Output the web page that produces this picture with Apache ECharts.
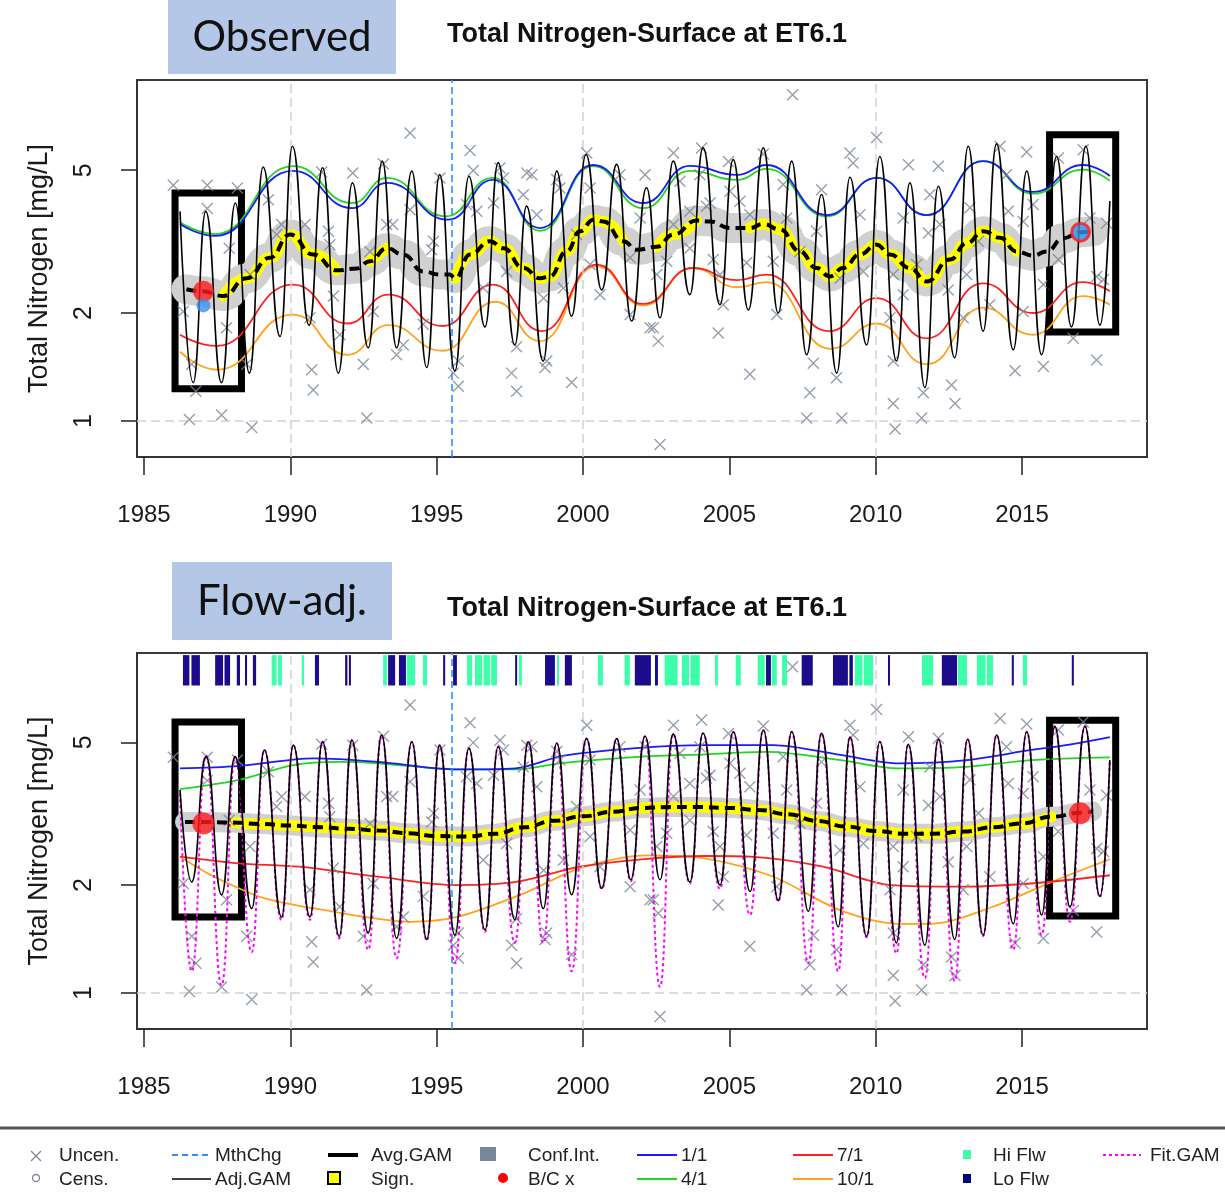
<!DOCTYPE html>
<html>
<head>
<meta charset="utf-8">
<title>Total Nitrogen-Surface at ET6.1</title>
<script src="https://cdn.jsdelivr.net/npm/echarts@6/dist/echarts.min.js"></script>
<style>
  html, body { margin: 0; padding: 0; background: #ffffff; }
  #chart { width: 1225px; height: 1202px; }
</style>
</head>
<body>
<div id="chart"></div>
<script>
// ---------------- axis ticks ----------------
const xTickYears = [1985, 1990, 1995, 2000, 2005, 2010, 2015];
const yTickValues = [1, 2, 5];
const decadeGridYears = [1990, 2000, 2010];
const methodChangeYear = 1995.52;

// ---------------- observations (year, mg/L) ----------------
const obsPoints = [
  [1986.00,4.54],[1987.16,4.54],[1988.19,4.46],[1987.16,3.91],[1987.91,3.03],[1989.25,4.14],[1989.70,3.53],
  [1990.50,3.53],[1991.07,4.94],[1992.13,4.91],[1993.18,5.20],[1991.30,3.38],[1991.35,3.10],[1993.29,3.53],
  [1992.72,2.97],[1991.47,2.23],[1990.67,1.94],[1992.83,2.02],[1991.69,1.74],[1993.63,1.53],[1992.49,1.44],
  [1990.73,1.39],[1990.78,1.22],[1988.51,1.44],[1987.82,1.82],[1986.34,2.02],[1986.63,1.44],[1986.77,1.21],
  [1986.55,1.01],[1987.65,1.04],[1988.68,0.96],[1992.61,1.02],[1989.53,3.31],[1988.62,2.56],
  [1994.09,6.35],[1996.14,5.67],[1995.11,4.76],[1996.25,4.99],[1997.16,5.07],[1997.28,4.76],[1998.08,4.91],
  [1998.25,4.86],[1999.10,4.71],[1999.21,4.46],[2000.13,5.58],[2000.24,4.46],[2001.26,4.86],[2002.12,4.86],
  [1997.96,4.27],[1998.42,3.76],[1996.37,3.84],[1996.94,4.05],[1996.02,4.01],[1994.89,3.17],[1994.83,3.00],
  [1994.09,3.88],[1993.50,3.53],[1997.39,2.61],[1996.59,2.35],[1998.65,2.20],[1999.33,2.35],[2000.58,2.25],
  [2001.61,1.98],[2002.29,1.82],[1994.54,1.86],[1993.86,1.63],[1995.74,1.47],[1995.74,1.25],[1995.57,1.36],
  [1997.73,1.61],[1997.56,1.36],[1997.73,1.21],[1998.76,1.47],[1999.61,1.28],[1998.70,1.41],[2000.24,2.73],
  [1999.78,3.31],[2001.61,2.85],[2001.95,3.68],
  [2007.16,8.12],[2010.03,6.17],[2003.09,5.58],[2004.05,5.77],[2004.97,5.29],[2006.16,5.55],[2009.12,5.58],
  [2009.23,5.24],[2003.31,4.66],[2003.99,4.86],[2005.02,4.37],[2005.36,4.10],[2004.22,3.97],[2008.15,4.41],
  [2009.46,3.76],[2003.09,3.53],[2003.65,3.84],[2004.34,4.05],[2005.70,3.76],[2006.84,4.56],[2007.98,3.38],
  [2007.41,2.97],[2009.58,2.61],[2002.86,2.79],[2003.65,3.03],[2004.45,2.82],[2005.59,2.76],[2006.50,2.79],
  [2002.52,2.56],[2004.68,2.56],[2008.78,2.50],[2004.79,2.11],[2004.62,1.76],[2002.40,1.82],[2002.57,1.67],
  [2006.62,1.98],[2007.87,1.45],[2007.75,1.20],[2008.66,1.32],[2005.70,1.35],[2007.64,1.02],[2008.84,1.02],
  [2002.63,0.86],[2010.60,1.12],[2010.66,0.95],[2010.49,1.94],[2006.96,3.68],
  [2011.12,5.18],[2012.14,5.13],[2014.25,5.83],[2015.16,5.62],[2016.24,5.41],[2017.09,5.70],[2014.47,4.86],
  [2011.85,4.27],[2010.94,3.68],[2012.20,3.53],[2013.22,3.93],[2014.53,3.84],[2015.38,4.01],[2011.80,3.34],
  [2013.51,3.17],[2015.04,3.60],[2016.24,2.82],[2017.32,3.68],[2017.89,3.56],[2011.40,2.73],[2010.60,2.56],
  [2013.11,2.56],[2015.73,2.40],[2017.55,2.53],[2017.78,2.48],[2010.94,2.25],[2012.48,2.32],[2013.90,2.11],
  [2015.04,2.02],[2012.99,1.94],[2016.75,1.70],[2017.55,1.48],[2015.73,1.42],[2014.76,1.38],[2010.60,1.47],
  [2011.63,1.20],[2012.59,1.26],[2012.71,1.12],[2011.57,1.02]
];

// ---------------- observed panel: GAM curves ----------------
const obsAdjGam = [
  [1986.23,3.84],[1986.68,1.28],[1987.11,3.84],[1987.65,1.28],[1988.12,4.05],[1988.60,1.36],
  [1989.07,5.10],[1989.65,1.72],[1990.07,5.83],[1990.64,1.85],[1991.10,5.08],[1991.64,1.36],
  [1992.12,4.61],[1992.66,1.60],[1993.14,5.30],[1993.63,1.60],[1994.15,4.97],[1994.66,1.41],
  [1995.10,4.86],[1995.62,1.38],[1996.10,4.81],[1996.65,1.83],[1997.10,5.25],[1997.67,1.63],
  [1998.07,3.97],[1998.64,1.47],[1999.10,4.97],[1999.61,1.96],[2000.10,5.53],[2000.64,2.32],
  [2001.15,5.19],[2001.66,1.90],[2002.17,4.47],[2002.63,1.94],[2003.08,5.30],[2003.65,2.25],
  [2004.10,5.77],[2004.68,2.11],[2005.13,5.35],[2005.65,2.04],[2006.16,5.77],[2006.67,2.00],
  [2007.13,5.30],[2007.64,1.53],[2008.15,4.28],[2008.67,1.36],[2009.12,4.78],[2009.69,1.63],
  [2010.14,5.46],[2010.71,1.47],[2011.17,4.61],[2011.68,1.24],[2012.14,4.51],[2012.70,1.50],
  [2013.16,5.83],[2013.67,1.78],[2014.13,5.92],[2014.70,1.58],[2015.16,4.97],[2015.67,1.53],
  [2016.18,5.46],[2016.69,1.83],[2017.18,5.83],[2017.66,1.85],[2018.00,4.10]
];
const obsAvgGam = [
  [1986.45,2.33],[1987.00,2.30],[1987.71,2.23],[1988.51,2.50],[1989.30,2.85],[1989.99,3.31],[1990.78,2.91],
  [1991.58,2.63],[1992.27,2.66],[1992.72,2.79],[1993.29,3.03],[1993.86,2.91],[1994.54,2.61],[1995.11,2.56],
  [1995.45,2.56],[1995.63,2.50],[1996.14,2.91],[1996.82,3.17],[1997.28,3.03],[1997.96,2.67],[1998.53,2.50],
  [1998.87,2.53],[1999.44,2.97],[1999.90,3.38],[2000.35,3.64],[2000.69,3.60],[2001.38,3.17],[2001.83,3.00],
  [2002.52,3.06],[2003.09,3.31],[2003.88,3.62],[2004.34,3.60],[2005.02,3.45],[2005.70,3.45],[2006.16,3.54],
  [2006.73,3.42],[2007.41,2.97],[2007.98,2.67],[2008.44,2.53],[2008.89,2.67],[2009.46,2.91],[2010.03,3.10],
  [2010.49,2.91],[2011.17,2.67],[2011.74,2.45],[2012.54,2.82],[2013.11,3.13],[2013.68,3.38],[2014.25,3.24],
  [2014.81,2.97],[2015.38,2.89],[2015.84,2.97],[2016.41,3.23],[2017.00,3.36],[2017.43,3.38]
];
const obsSigSpans = [[1987.6,1991.7],[1992.5,1993.5],[1994.3,1995.1],[1995.6,2001.5],[2002.4,2004.3],[2005.5,2014.9],[2015.9,2016.4]];
const obsJan = [
  [1986.23,3.54],[1987.43,3.28],[1990.09,4.98],[1992.11,3.92],[1993.30,4.61],[1995.40,3.64],[1996.92,4.70],
  [1998.53,3.45],[2000.34,5.17],[2002.05,4.05],[2003.65,5.14],[2005.26,4.85],[2006.28,5.17],[2008.33,3.75],
  [2010.04,4.76],[2011.75,3.75],[2013.66,5.30],[2015.37,4.35],[2017.08,5.17],[2018.00,4.82]
];
const obsApr = [
  [1986.23,3.58],[1987.43,3.32],[1990.09,5.13],[1992.11,4.05],[1993.30,4.76],[1995.30,3.72],[1996.92,4.76],
  [1998.53,3.39],[2000.34,5.13],[2002.05,3.92],[2003.65,4.98],[2005.26,4.70],[2006.28,5.04],[2008.33,3.72],
  [2010.04,4.76],[2011.75,3.75],[2013.66,5.30],[2015.37,4.30],[2017.08,5.02],[2018.00,4.67]
];
const obsJul = [
  [1986.23,1.74],[1987.48,1.62],[1990.09,2.40],[1991.95,1.87],[1993.35,2.25],[1995.20,1.84],[1996.92,2.40],
  [1998.60,1.78],[2000.45,2.73],[2002.05,2.12],[2003.75,2.67],[2005.26,2.47],[2006.28,2.56],[2008.40,1.78],
  [2010.04,2.20],[2011.75,1.70],[2013.66,2.42],[2015.37,2.00],[2017.08,2.44],[2018.00,2.30]
];
const obsOct = [
  [1986.23,1.56],[1987.50,1.39],[1990.09,1.98],[1991.95,1.53],[1993.35,1.85],[1995.20,1.57],[1997.00,2.15],
  [1998.53,1.67],[2000.45,2.70],[2002.05,2.10],[2003.75,2.67],[2005.26,2.36],[2006.28,2.44],[2008.45,1.59],
  [2010.04,1.87],[2011.75,1.44],[2013.66,2.07],[2015.37,1.74],[2017.08,2.23],[2018.00,2.11]
];
const obsBaseline = [1987.03, 2.30];
const obsBaselineCheck = [1987.03, 2.10];
const obsCurrent = [2017.00, 3.36];

// ---------------- flow-adjusted panel: GAM curves ----------------
const adjAdjGam = [
  [1986.23,3.68],[1986.63,2.04],[1987.12,4.56],[1987.65,1.88],[1988.11,4.56],[1988.68,1.72],
  [1989.11,4.76],[1989.70,1.63],[1990.10,4.91],[1990.67,1.63],[1991.10,5.02],[1991.67,1.44],
  [1992.10,5.07],[1992.66,1.47],[1993.12,5.24],[1993.63,1.42],[1994.15,5.02],[1994.66,1.41],
  [1995.10,4.91],[1995.62,1.45],[1996.10,4.81],[1996.65,1.50],[1997.10,4.86],[1997.67,1.60],
  [1998.13,5.02],[1998.64,1.72],[1999.10,4.97],[1999.61,1.88],[2000.12,5.12],[2000.64,1.96],
  [2001.15,5.12],[2001.63,2.07],[2002.12,5.20],[2002.63,2.07],[2003.08,5.27],[2003.65,2.04],
  [2004.10,5.30],[2004.68,2.00],[2005.13,5.35],[2005.71,1.92],[2006.16,5.41],[2006.67,1.81],
  [2007.13,5.35],[2007.70,1.69],[2008.15,5.30],[2008.72,1.53],[2009.12,5.17],[2009.69,1.44],
  [2010.14,5.02],[2010.71,1.38],[2011.11,4.94],[2011.68,1.36],[2012.14,5.10],[2012.70,1.41],
  [2013.14,5.10],[2013.67,1.45],[2014.13,5.24],[2014.70,1.56],[2015.16,5.35],[2015.67,1.65],
  [2016.12,5.54],[2016.64,1.74],[2017.15,5.54],[2017.66,1.86],[2018.00,4.46]
];
const adjFitGam = [
  [1986.23,3.60],[1986.63,1.15],[1987.12,4.60],[1987.65,1.05],[1988.11,4.50],[1988.68,1.30],
  [1989.11,4.76],[1989.70,1.60],[1990.10,4.91],[1990.67,1.60],[1991.10,5.02],[1991.67,1.42],
  [1992.10,5.07],[1992.66,1.32],[1993.12,5.24],[1993.63,1.25],[1994.15,5.02],[1994.66,1.40],
  [1995.10,4.91],[1995.62,1.21],[1996.10,4.81],[1996.65,1.48],[1997.10,4.86],[1997.67,1.38],
  [1998.13,5.02],[1998.64,1.38],[1999.10,4.97],[1999.61,1.15],[2000.12,5.12],[2000.64,1.95],
  [2001.15,5.12],[2001.63,2.05],[2002.12,5.20],[2002.63,1.04],[2003.08,5.27],[2003.65,2.02],
  [2004.10,5.30],[2004.68,1.95],[2005.13,5.35],[2005.71,1.65],[2006.16,5.41],[2006.67,1.80],
  [2007.13,5.35],[2007.70,1.21],[2008.15,5.30],[2008.72,1.15],[2009.12,5.17],[2009.69,1.43],
  [2010.14,5.02],[2010.71,1.29],[2011.11,4.94],[2011.68,1.10],[2012.14,5.10],[2012.70,1.08],
  [2013.14,5.10],[2013.67,1.44],[2014.13,5.24],[2014.70,1.32],[2015.16,5.35],[2015.67,1.45],
  [2016.12,5.54],[2016.64,1.58],[2017.15,5.54],[2017.66,1.85],[2018.00,4.46]
];
const adjAvgGam = [
  [1986.40,3.00],[1987.00,3.00],[1988.00,2.99],[1989.00,2.96],[1990.00,2.93],[1991.00,2.90],[1992.00,2.87],
  [1993.00,2.84],[1994.00,2.79],[1995.00,2.74],[1996.00,2.73],[1997.00,2.78],[1998.00,2.90],[1999.00,3.02],
  [2000.00,3.11],[2001.00,3.20],[2002.00,3.28],[2003.00,3.30],[2004.00,3.30],[2005.00,3.28],[2006.00,3.24],
  [2007.00,3.15],[2008.00,3.02],[2009.00,2.91],[2010.00,2.83],[2011.00,2.78],[2012.00,2.78],[2013.00,2.82],
  [2014.00,2.90],[2015.00,2.97],[2016.00,3.10],[2017.00,3.18],[2017.40,3.21]
];
const adjSigSpans = [[1987.4,2016.2]];
const adjJan = [
  [1986.23,4.23],[1988.20,4.29],[1990.80,4.51],[1993.00,4.41],[1995.70,4.20],[1997.70,4.23],[1999.30,4.58],
  [2001.70,4.81],[2004.20,4.91],[2006.50,4.91],[2008.80,4.61],[2010.80,4.37],[2013.10,4.46],[2015.30,4.76],
  [2016.50,4.91],[2018.00,5.17]
];
const adjApr = [
  [1986.23,3.70],[1988.20,3.92],[1990.10,4.32],[1991.70,4.41],[1993.00,4.37],[1995.70,4.20],[1997.70,4.20],
  [1999.20,4.37],[2002.00,4.56],[2004.20,4.63],[2006.30,4.70],[2008.80,4.46],[2010.80,4.23],[2013.10,4.27],
  [2015.30,4.46],[2018.00,4.54]
];
const adjJul = [
  [1986.23,2.40],[1988.20,2.30],[1990.30,2.25],[1993.00,2.11],[1995.70,2.00],[1997.70,2.04],[1999.90,2.25],
  [2002.00,2.36],[2004.20,2.41],[2005.70,2.40],[2008.20,2.25],[2010.50,2.00],[2013.10,1.98],[2015.30,2.02],
  [2018.00,2.13]
];
const adjOct = [
  [1986.23,2.40],[1987.40,2.11],[1989.10,1.84],[1991.40,1.69],[1993.00,1.61],[1994.10,1.58],[1995.70,1.63],
  [1998.00,1.90],[1999.90,2.23],[2002.20,2.42],[2004.20,2.37],[2006.50,2.11],[2008.80,1.70],[2010.80,1.56],
  [2011.90,1.56],[2014.00,1.74],[2016.20,2.07],[2018.00,2.36]
];
const adjBaseline = [1987.03, 2.97];
const adjCurrent = [2016.98, 3.17];

// flow classes (start year, end year)
const hiFlowSpans = [
  [1989.36,1989.53],[1989.58,1989.71],[1990.39,1990.47],[1993.17,1993.30],[1993.98,1994.26],[1994.53,1994.67],
  [1996.04,1996.21],[1996.31,1996.55],[1996.60,1996.82],[1996.86,1997.06],[1997.81,1997.91],[1999.11,1999.18],
  [2000.51,2000.68],[2001.42,2001.60],[2002.79,2003.23],[2003.38,2003.62],[2003.67,2003.99],[2004.51,2004.61],
  [2005.22,2005.39],[2005.97,2006.21],[2006.45,2006.62],[2006.80,2006.97],[2009.29,2009.55],[2009.60,2009.91],
  [2011.58,2011.96],[2012.81,2013.12],[2013.46,2013.75],[2013.80,2014.01],[2015.03,2015.17]
];
const loFlowSpans = [
  [1986.33,1986.55],[1986.62,1986.91],[1987.43,1987.70],[1987.75,1987.94],[1988.17,1988.28],[1988.45,1988.52],
  [1988.72,1988.83],[1990.84,1990.98],[1991.87,1991.95],[1992.00,1992.07],[1993.34,1993.58],[1993.71,1993.95],
  [1995.22,1995.29],[1995.56,1995.69],[1997.68,1997.74],[1998.70,1999.04],[1999.38,1999.62],[2001.77,2002.32],
  [2002.46,2002.56],[2006.25,2006.42],[2007.47,2007.85],[2008.54,2009.05],[2009.10,2009.22],[2010.42,2010.49],
  [2012.26,2012.78],[2014.65,2014.72],[2016.70,2016.77]
];

// observation-window boxes (start year, end year, low, high)
const obsWindowBoxes = [[1986.06, 1988.33, 1.23, 4.32], [2015.94, 2018.20, 1.77, 6.28]];
const adjWindowBoxes = [[1986.06, 1988.33, 1.63, 5.70], [2015.94, 2018.20, 1.64, 5.76]];

// ---------------- styling constants ----------------
const FONT = "'Liberation Sans', Arial, sans-serif";
const COL = {
  obs: '#7b8797', jan: '#1a1aff', apr: '#1ed81e', jul: '#ff2222', oct: '#ffa31a',
  hi: '#3dffaa', lo: '#1c0c8c', fit: '#ff00ff', mth: '#2e90ff', ci: '#d0d0d0', sig: '#ffff00'
};
const FLOW_BAND_TOP = 8.75, FLOW_BAND_BOTTOM = 7.2;

function sigOnly(points, spans) {
  return points.map(p => spans.some(s => p[0] >= s[0] && p[0] <= s[1]) ? p : [p[0], null]);
}

function xAxisFor(gi) {
  return {
    type: 'value', gridIndex: gi, min: 1984.76, max: 2019.27,
    axisLine: { show: true, onZero: false, lineStyle: { color: '#333', width: 2 } },
    axisTick: { show: true, length: 18, customValues: xTickYears, lineStyle: { color: '#222', width: 1.5 } },
    axisLabel: { customValues: xTickYears, fontSize: 24, color: '#1a1a1a', fontFamily: FONT, margin: 46,
      formatter: v => String(Math.round(v)) },
    splitLine: { show: false }
  };
}
function yAxisFor(gi, max) {
  return {
    type: 'log', logBase: 10, gridIndex: gi, min: 0.794, max: max,
    name: 'Total Nitrogen [mg/L]', nameLocation: 'middle', nameGap: 84, nameRotate: 90,
    nameTextStyle: { fontSize: 27, color: '#1a1a1a', fontFamily: FONT },
    axisLine: { show: true, lineStyle: { color: '#333', width: 2 } },
    axisTick: { show: true, length: 16, customValues: yTickValues, lineStyle: { color: '#222', width: 1.5 } },
    axisLabel: { customValues: yTickValues, rotate: 90, fontSize: 25, color: '#1a1a1a', fontFamily: FONT, margin: 40,
      formatter: v => String(v) },
    splitLine: { show: false }, minorTick: { show: false }
  };
}

const xMarker = 'path://M0 0L10 10M10 0L0 10';

function panelSeries(gi, d) {
  const ax = { xAxisIndex: gi, yAxisIndex: gi };
  const line = (data, color, width, z, extra) => Object.assign({
    type: 'line', data: data, showSymbol: false, symbol: 'none', smooth: 0.5, smoothMonotone: 'x',
    lineStyle: { color: color, width: width }, z: z, silent: true
  }, ax, extra || {});
  const gentle = d.flat ? { smooth: 0.3, smoothMonotone: null } : null;
  const list = [
    // reference grid
    Object.assign({
      type: 'line', data: [], z: 1, silent: true,
      markLine: {
        silent: true, symbol: 'none', label: { show: false },
        lineStyle: { color: '#d2d2d2', type: [9, 5], width: 1.5 },
        data: decadeGridYears.map(v => ({ xAxis: v })).concat([{ yAxis: 1 }])
      }
    }, ax),
    // confidence band around the averaged GAM
    line(d.avg, COL.ci, d.ciWidth, 2, { lineStyle: { color: COL.ci, width: d.ciWidth, cap: 'round', join: 'round' } }),
    // significance highlight
    line(sigOnly(d.avg, d.sig), COL.sig, 11, 3, { connectNulls: false, lineStyle: { color: COL.sig, width: 11, cap: 'round' } }),
    line(d.oct, COL.oct, 1.8, 4, gentle),
    line(d.jul, COL.jul, 1.8, 4, gentle),
    line(d.apr, COL.apr, 1.8, 4, gentle),
    line(d.jan, COL.jan, 1.8, 4, gentle),
    Object.assign({
      type: 'scatter', data: obsPoints, symbol: xMarker, symbolSize: 11, z: 5, silent: true,
      itemStyle: { color: 'rgba(0,0,0,0)', borderColor: COL.obs, borderWidth: 1.4 }
    }, ax)
  ];
  if (d.fit) {
    list.push(line(d.fit, COL.fit, 2, 6, { lineStyle: { color: COL.fit, width: 2, type: [3, 3] } }));
  }
  list.push(
    line(d.adj, '#000', 1.6, 7),
    line(d.avg, '#000', 4, 8, { lineStyle: { color: '#000', width: 4, type: [10, 6] } }),
    // method change marker
    Object.assign({
      type: 'line', data: [], z: 9, silent: true,
      markLine: {
        silent: true, symbol: 'none', label: { show: false },
        lineStyle: { color: COL.mth, type: [7, 4], width: 1.6 },
        data: [{ xAxis: methodChangeYear }]
      }
    }, ax)
  );
  d.dots.forEach(dot => list.push(Object.assign({
    type: 'scatter', data: [dot.p], symbol: 'circle', symbolSize: dot.size, z: 10, silent: true,
    itemStyle: { color: dot.fill, borderColor: dot.stroke || dot.fill, borderWidth: dot.stroke ? 3 : 0 }
  }, ax)));
  // highlighted comparison windows
  list.push(Object.assign({
    type: 'line', data: [], z: 11, silent: true,
    markArea: {
      silent: true,
      itemStyle: { color: 'rgba(0,0,0,0)', borderColor: '#000', borderWidth: 7 },
      data: d.boxes.map(b => [{ xAxis: b[0], yAxis: b[2] }, { xAxis: b[1], yAxis: b[3] }])
    }
  }, ax));
  return list;
}

function flowSeries(spans, color) {
  return {
    type: 'custom', xAxisIndex: 1, yAxisIndex: 1, data: spans, encode: { x: [0, 1] }, z: 4, silent: true,
    renderItem: function (params, api) {
      const a = api.coord([api.value(0), FLOW_BAND_TOP]);
      const b = api.coord([api.value(1), FLOW_BAND_BOTTOM]);
      return {
        type: 'rect',
        shape: { x: a[0], y: a[1], width: Math.max(b[0] - a[0], 2), height: b[1] - a[1] },
        style: { fill: color }
      };
    }
  };
}

const series = []
  .concat(panelSeries(0, {
    adj: obsAdjGam, avg: obsAvgGam, sig: obsSigSpans, ciWidth: 30,
    jan: obsJan, apr: obsApr, jul: obsJul, oct: obsOct, boxes: obsWindowBoxes,
    dots: [
      { p: obsBaseline, size: 21, fill: '#ff1a1a' },
      { p: obsBaselineCheck, size: 14, fill: '#3a8ee6' },
      { p: obsCurrent, size: 18, fill: '#3a8ee6', stroke: '#ff1a1a' }
    ]
  }))
  .concat(panelSeries(1, {
    adj: adjAdjGam, fit: adjFitGam, avg: adjAvgGam, sig: adjSigSpans, ciWidth: 20, flat: true,
    jan: adjJan, apr: adjApr, jul: adjJul, oct: adjOct, boxes: adjWindowBoxes,
    dots: [
      { p: adjBaseline, size: 22, fill: '#ff1a1a' },
      { p: adjCurrent, size: 22, fill: '#ff1a1a' }
    ]
  }))
  .concat([flowSeries(hiFlowSpans, COL.hi), flowSeries(loFlowSpans, COL.lo)]);

// ---------------- legend and panel labels ----------------
const LG = { fontSize: 19, fill: '#222', fontFamily: FONT };
function ltext(x, y, t) {
  return { type: 'text', x: x, y: y, z: 100, style: Object.assign({ text: t, verticalAlign: 'middle', align: 'left' }, LG) };
}
function lline(x1, x2, y, color, width, dash) {
  return { type: 'line', z: 100, shape: { x1: x1, y1: y, x2: x2, y2: y },
    style: { stroke: color, lineWidth: width, lineDash: dash || null } };
}
const r1 = 1156, r2 = 1180;
const legendGraphics = [
  { type: 'line', z: 100, shape: { x1: 0, y1: 1128, x2: 1225, y2: 1128 }, style: { stroke: '#555', lineWidth: 3 } },
  { type: 'line', z: 100, shape: { x1: 31, y1: r1 - 5, x2: 41, y2: r1 + 5 }, style: { stroke: COL.obs, lineWidth: 1.3 } },
  { type: 'line', z: 100, shape: { x1: 41, y1: r1 - 5, x2: 31, y2: r1 + 5 }, style: { stroke: COL.obs, lineWidth: 1.3 } },
  { type: 'circle', z: 100, shape: { cx: 36, cy: r2 - 2, r: 3.5 }, style: { fill: 'none', stroke: COL.obs, lineWidth: 1.3 } },
  ltext(59, r1, 'Uncen.'), ltext(59, r2, 'Cens.'),
  lline(172, 211, r1 - 1, COL.mth, 2, [6, 4]), ltext(215, r1, 'MthChg'),
  lline(172, 211, r2 - 1, '#000', 1.5), ltext(215, r2, 'Adj.GAM'),
  lline(328, 358, r1 - 1, '#000', 4), ltext(371, r1, 'Avg.GAM'),
  { type: 'rect', z: 100, shape: { x: 328, y: r2 - 8, width: 12, height: 12 }, style: { fill: COL.sig, stroke: '#000', lineWidth: 2 } },
  ltext(371, r2, 'Sign.'),
  { type: 'rect', z: 100, shape: { x: 480, y: r1 - 9, width: 16, height: 14 }, style: { fill: '#778899' } },
  ltext(528, r1, 'Conf.Int.'),
  { type: 'circle', z: 100, shape: { cx: 503, cy: r2 - 2, r: 5 }, style: { fill: '#ff0000' } },
  ltext(528, r2, 'B/C x'),
  lline(637, 677, r1 - 1, COL.jan, 2), ltext(681, r1, '1/1'),
  lline(637, 677, r2 - 1, COL.apr, 2), ltext(681, r2, '4/1'),
  lline(793, 833, r1 - 1, COL.jul, 2), ltext(837, r1, '7/1'),
  lline(793, 833, r2 - 1, COL.oct, 2), ltext(837, r2, '10/1'),
  { type: 'rect', z: 100, shape: { x: 963, y: r1 - 6, width: 8, height: 9 }, style: { fill: COL.hi } },
  ltext(993, r1, 'Hi Flw'),
  { type: 'rect', z: 100, shape: { x: 963, y: r2 - 6, width: 8, height: 9 }, style: { fill: '#000080' } },
  ltext(993, r2, 'Lo Flw'),
  lline(1103, 1141, r1 - 1, COL.fit, 2, [3, 3]), ltext(1150, r1, 'Fit.GAM')
];
function panelTag(x, y, w, h, label) {
  return [
    { type: 'rect', z: 100, shape: { x: x, y: y, width: w, height: h }, style: { fill: '#b4c7e7' } },
    { type: 'text', z: 101, x: x + w / 2, y: y + h / 2,
      style: { text: label, fontSize: 42, fill: '#111', fontFamily: "Lato, 'Open Sans', sans-serif", align: 'center', verticalAlign: 'middle' } }
  ];
}
const graphics = legendGraphics
  .concat(panelTag(168, 0, 228, 74, 'Observed'))
  .concat(panelTag(172, 562, 220, 78, 'Flow-adj.'));

const option = {
  animation: false,
  backgroundColor: '#ffffff',
  title: [
    { text: 'Total Nitrogen-Surface at ET6.1', left: 642, top: 16, textAlign: 'center',
      textStyle: { fontSize: 27, fontWeight: 'bold', color: '#111', fontFamily: FONT } },
    { text: 'Total Nitrogen-Surface at ET6.1', left: 642, top: 590, textAlign: 'center',
      textStyle: { fontSize: 27, fontWeight: 'bold', color: '#111', fontFamily: FONT } }
  ],
  grid: [
    { left: 137, top: 80, width: 1010, height: 377, show: true, borderColor: '#3a3a3a', borderWidth: 2, backgroundColor: 'transparent' },
    { left: 137, top: 653, width: 1010, height: 376, show: true, borderColor: '#3a3a3a', borderWidth: 2, backgroundColor: 'transparent' }
  ],
  xAxis: [xAxisFor(0), xAxisFor(1)],
  yAxis: [yAxisFor(0, 8.92), yAxisFor(1, 8.87)],
  series: series,
  graphic: graphics
};

const chart = echarts.init(document.getElementById('chart'), null, { renderer: 'canvas' });
chart.setOption(option);
</script>
</body>
</html>
